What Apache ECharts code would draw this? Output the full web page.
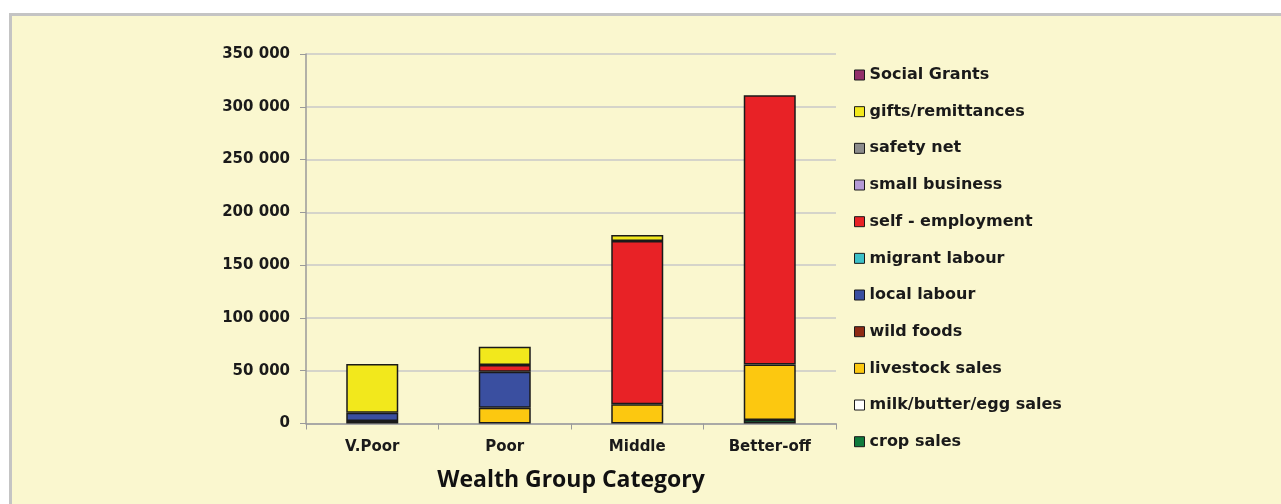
<!DOCTYPE html>
<html>
<head>
<meta charset="utf-8">
<script src="https://cdn.jsdelivr.net/npm/echarts@6/dist/echarts.min.js"></script>
<style>
  html, body { margin: 0; padding: 0; background: #fff; overflow: hidden; }
  #bg { position: absolute; left: 9px; top: 13px; width: 1300px; height: 520px;
        border-left: 3px solid #c4c4c4; border-top: 3px solid #c4c4c4; background: #faf7cf; }
  #chart { position: absolute; left: 0; top: 0; width: 1281px; height: 504px; }
</style>
</head>
<body>
<div id="bg"></div>
<div id="chart"></div>
<script>
// wealth groups
const categories = ['V.Poor', 'Poor', 'Middle', 'Better-off']

// income sources, bottom of the stack first
const cropSales = [0, 0, 0, 3300]
const milkSales = [0, 0, 0, 0]
const livestockSales = [2400, 15000, 18200, 52700]
const wildFoods = [0, 0, 0, 0]
const localLabour = [7900, 34100, 0, 0]
const migrantLabour = [0, 0, 0, 0]
const selfEmployment = [0, 6300, 154600, 255000]
const smallBusiness = [0, 0, 0, 0]
const safetyNet = [0, 0, 0, 0]
const gifts = [46100, 17300, 5700, 0]
const socialGrants = [0, 0, 0, 0]

const yTicks = [0, 50000, 100000, 150000, 200000, 250000, 300000, 350000]

const seriesConf = [
  { name: 'crop sales', data: cropSales, color: '#0f7a3c' },
  { name: 'milk/butter/egg sales', data: milkSales, color: '#ffffff' },
  { name: 'livestock sales', data: livestockSales, color: '#fcc810' },
  { name: 'wild foods', data: wildFoods, color: '#8e2a14' },
  { name: 'local labour', data: localLabour, color: '#3a4fa0' },
  { name: 'migrant labour', data: migrantLabour, color: '#3cc0c8' },
  { name: 'self - employment', data: selfEmployment, color: '#e82226' },
  { name: 'small business', data: smallBusiness, color: '#b49ad6' },
  { name: 'safety net', data: safetyNet, color: '#8c8c8c' },
  { name: 'gifts/remittances', data: gifts, color: '#f2e81c' },
  { name: 'Social Grants', data: socialGrants, color: '#93306a' }
]

const font = '"DejaVu Sans", sans-serif'

let series = []
for (let i = 0; i < seriesConf.length; i++) {
  let s = seriesConf[i]
  series.push({
    name: s.name,
    type: 'bar',
    stack: 'total',
    barWidth: 52,
    data: s.data.map(v => (v === 0 ? null : v)),
    itemStyle: { color: s.color, borderColor: '#1a1a1a', borderWidth: 1.5 },
    emphasis: { disabled: true }
  })
}

const chart = echarts.init(document.getElementById('chart'))
chart.setOption({
  animation: false,
  backgroundColor: 'transparent',
  grid: { left: 306, top: 54, width: 530, height: 369.5, outerBoundsMode: 'none' },
  legend: {
    orient: 'vertical',
    left: 854,
    top: 66.5,
    padding: 0,
    itemWidth: 10,
    itemHeight: 10,
    itemGap: 19.67,
    icon: 'rect',
    data: seriesConf.map(s => s.name).reverse(),
    itemStyle: { borderColor: '#1a1a1a', borderWidth: 1 },
    textStyle: { fontFamily: font, fontWeight: 'bold', fontSize: 16, color: '#1a1a1a', lineHeight: 17 }
  },
  xAxis: {
    type: 'category',
    data: categories,
    name: 'Wealth Group Category',
    nameLocation: 'middle',
    nameGap: 45,
    nameTextStyle: { fontFamily: '"Open Sans", sans-serif', fontWeight: 'bold', fontSize: 23, color: '#111' },
    axisLine: { lineStyle: { color: '#9a9a9a', width: 1.5 } },
    axisTick: { show: true, length: 6, lineStyle: { color: '#9a9a9a' } },
    axisLabel: { margin: 16, fontFamily: font, fontWeight: 'bold', fontSize: 15, color: '#1a1a1a' }
  },
  yAxis: {
    type: 'value',
    min: yTicks[0],
    max: yTicks[yTicks.length - 1],
    interval: 50000,
    axisLine: { show: true, lineStyle: { color: '#9a9a9a', width: 1.5 } },
    axisTick: { show: true, length: 6, lineStyle: { color: '#9a9a9a' } },
    splitLine: { lineStyle: { color: '#c8c8c8', width: 1.5 } },
    axisLabel: {
      margin: 16,
      fontFamily: font,
      fontWeight: 'bold',
      fontSize: 15,
      color: '#1a1a1a',
      formatter: v => String(v).replace(/\B(?=(\d{3})+(?!\d))/g, ' ')
    }
  },
  series: series
})
</script>
</body>
</html>
